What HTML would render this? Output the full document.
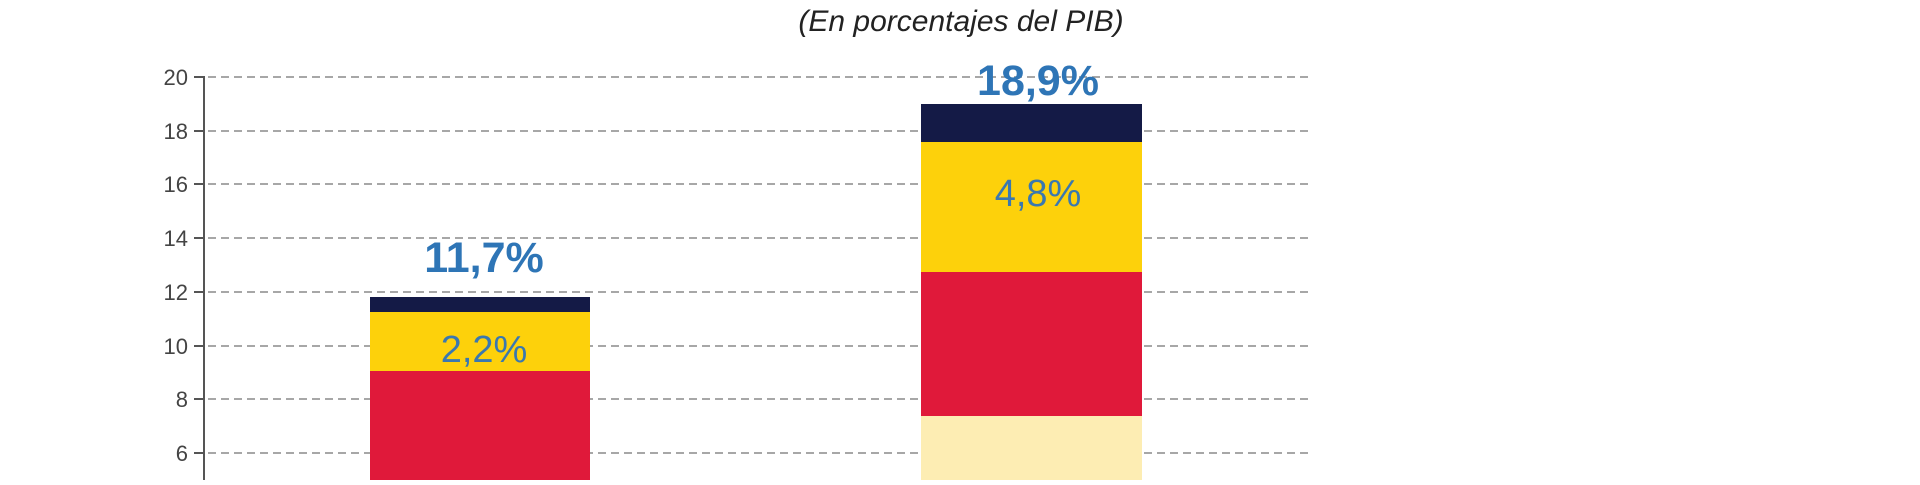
<!DOCTYPE html>
<html><head><meta charset="utf-8"><style>
body{margin:0;width:1920px;height:480px;background:#fff;overflow:hidden}
</style></head><body>
<svg width="1920" height="480" xmlns="http://www.w3.org/2000/svg">
<text x="961" y="31" text-anchor="middle" font-family="Liberation Sans, sans-serif" font-style="italic" font-size="30" fill="#222">(En porcentajes del PIB)</text>
<g stroke="#8a8a8a" stroke-width="1.5" stroke-dasharray="8,5">
<line x1="208" x2="1308" y1="77" y2="77"/>
<line x1="208" x2="1308" y1="131" y2="131"/>
<line x1="208" x2="1308" y1="184" y2="184"/>
<line x1="208" x2="1308" y1="238" y2="238"/>
<line x1="208" x2="1308" y1="292" y2="292"/>
<line x1="208" x2="1308" y1="346" y2="346"/>
<line x1="208" x2="1308" y1="399" y2="399"/>
<line x1="208" x2="1308" y1="453" y2="453"/>
</g>
<g stroke="#555" stroke-width="2">
<line x1="204" x2="204" y1="76" y2="480"/>
<line x1="194" x2="204" y1="77" y2="77"/><line x1="194" x2="204" y1="131" y2="131"/>
<line x1="194" x2="204" y1="184" y2="184"/><line x1="194" x2="204" y1="238" y2="238"/>
<line x1="194" x2="204" y1="292" y2="292"/><line x1="194" x2="204" y1="346" y2="346"/>
<line x1="194" x2="204" y1="399" y2="399"/><line x1="194" x2="204" y1="453" y2="453"/>
</g>
<g font-family="Liberation Sans Narrow, Liberation Sans, sans-serif" font-size="22" fill="#444" text-anchor="end">
<text x="188" y="85">20</text><text x="188" y="139">18</text><text x="188" y="192">16</text>
<text x="188" y="246">14</text><text x="188" y="300">12</text><text x="188" y="354">10</text>
<text x="188" y="407">8</text><text x="188" y="461">6</text>
</g>
<rect x="370" y="297" width="220" height="15" fill="#141a46"/>
<rect x="370" y="312" width="220" height="59" fill="#fdd10b"/>
<rect x="370" y="371" width="220" height="109" fill="#e0193a"/>
<rect x="921" y="104" width="221" height="38" fill="#141a46"/>
<rect x="921" y="142" width="221" height="130" fill="#fdd10b"/>
<rect x="921" y="272" width="221" height="144" fill="#e0193a"/>
<rect x="921" y="416" width="221" height="64" fill="#fdedb3"/>
<g font-family="Liberation Sans, sans-serif" text-anchor="middle">
<text x="484" y="272" font-size="43" font-weight="bold" fill="#2e75b6">11,7%</text>
<text x="1038" y="95" font-size="43" font-weight="bold" fill="#2e75b6">18,9%</text>
<text x="484" y="362" font-size="38" fill="#3a78b0">2,2%</text>
<text x="1038" y="206" font-size="38" fill="#3a78b0">4,8%</text>
</g>
</svg>
</body></html>
